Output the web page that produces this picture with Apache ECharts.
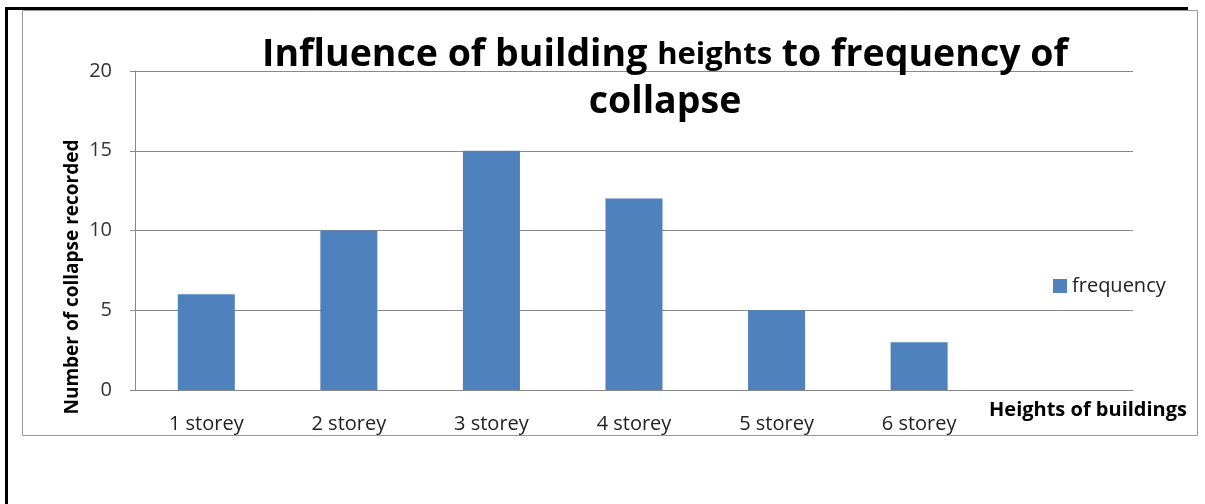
<!DOCTYPE html>
<html>
<head>
<meta charset="utf-8">
<style>
  html, body { margin: 0; padding: 0; background: #fff; }
  #chart { width: 1205px; height: 504px; }
</style>
<script src="https://cdn.jsdelivr.net/npm/echarts@6/dist/echarts.min.js"></script>
</head>
<body>
<div id="chart"></div>
<script>
// data
const storeys = ['1 storey', '2 storey', '3 storey', '4 storey', '5 storey', '6 storey', ''];
const frequency = [6, 10, 15, 12, 5, 3];
const yTicks = [0, 5, 10, 15, 20];

const font = '"Open Sans", sans-serif';
const chart = echarts.init(document.getElementById('chart'));

chart.setOption({
  animation: false,
  title: {
    text: '{a|Influence of building }{b|heights}{a| to frequency of}\n{a|collapse}',
    left: 660,
    textAlign: 'center',
    top: 27,
    textStyle: {
      rich: {
        a: { fontFamily: font, fontSize: 37.5, fontWeight: 'bold', color: '#000', lineHeight: 47 },
        b: { fontFamily: font, fontSize: 31, fontWeight: 'bold', color: '#000', lineHeight: 47 }
      }
    }
  },
  legend: {
    left: 1048,
    top: 271,
    icon: 'rect',
    itemWidth: 14,
    itemHeight: 14,
    itemGap: 6,
    textStyle: { fontFamily: font, fontSize: 20, color: '#222' },
    data: ['frequency']
  },
  grid: { left: 135, right: 72, top: 71, bottom: 114 },
  xAxis: {
    type: 'category',
    data: storeys,
    axisLine: { lineStyle: { color: '#888' } },
    axisTick: { length: 5, lineStyle: { color: '#888' } },
    axisLabel: { fontFamily: font, fontSize: 20, color: '#222', margin: 24 }
  },
  yAxis: {
    type: 'value',
    min: yTicks[0],
    max: yTicks[yTicks.length - 1],
    interval: 5,
    axisLine: { show: true, lineStyle: { color: '#888' } },
    axisTick: { show: true, length: 5, lineStyle: { color: '#888' } },
    splitLine: { lineStyle: { color: '#888' } },
    axisLabel: { fontFamily: font, fontSize: 20, color: '#333', margin: 23 }
  },
  series: [{
    name: 'frequency',
    type: 'bar',
    data: frequency,
    barWidth: '40%',
    itemStyle: { color: '#4F81BD' }
  }],
  graphic: [
    // table/document borders
    { type: 'rect', shape: { x: 22.5, y: 10.5, width: 1175, height: 425 },
      style: { fill: 'none', stroke: '#999', lineWidth: 1 }, z: -1 },
    { type: 'line', shape: { x1: 5, y1: 8.5, x2: 1188, y2: 8.5 },
      style: { stroke: '#000', lineWidth: 3 } },
    { type: 'line', shape: { x1: 6.5, y1: 8, x2: 6.5, y2: 504 },
      style: { stroke: '#000', lineWidth: 3 } },
    {
      type: 'text',
      x: 1088,
      y: 410,
      style: {
        text: 'Heights of buildings', fontFamily: font, fontSize: 20, fontWeight: 'bold', fill: '#000',
        align: 'center', verticalAlign: 'middle'
      }
    },
    {
      type: 'text',
      x: 73,
      y: 277,
      rotation: Math.PI / 2,
      style: {
        text: 'Number of collapse recorded',
        fontFamily: font, fontSize: 19, fontWeight: 'bold', fill: '#000',
        align: 'center', verticalAlign: 'middle'
      }
    }
  ]
});
</script>
</body>
</html>
